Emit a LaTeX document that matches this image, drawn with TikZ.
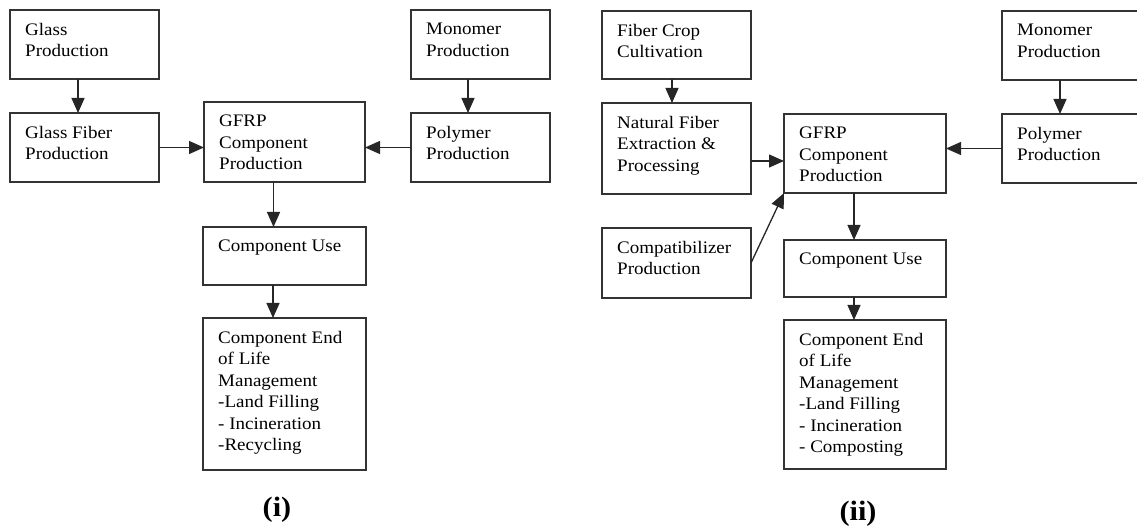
\documentclass[tikz,border=0pt]{standalone}
\usepackage{fontspec}
\setmainfont{Liberation Serif}[FakeStretch=1.08]
\usetikzlibrary{arrows.meta}

\newcommand\boxfont{\fontsize{17.6pt}{21.5pt}\selectfont}
\newcommand\tagfont{\fontsize{28pt}{32pt}\selectfont\bfseries}

\tikzset{
  blk/.style={draw=black!80, line width=1.4pt, rectangle, inner sep=0pt, outer sep=0pt},
  txt/.style={anchor=north west, inner sep=0pt, align=left, font=\boxfont},
  flow/.style={draw=black!85, line width=1.3pt, -{Triangle[length=15pt,width=13pt]}},
  tag/.style={font=\tagfont, inner sep=0pt},
}

% \blk{name}{x1}{y1}{x2}{y2}{text}: a frame with its text set at the top left
\newcommand\blk[6]{%
  \node[blk, minimum width={#4-#2}, minimum height={#5-#3}] (#1) at ({(#2+#4)/2},{(#3+#5)/2}) {};
  \node[txt] (#1-t) at ({#2+15},{#3+13}) {#6};
}

\begin{document}
\begin{tikzpicture}[x=1pt, y=-1pt]
\useasboundingbox (0,0) rectangle (1137,526);
\clip (0,0) rectangle (1137,526);

% ---- (i) glass fiber route
\blk{g1}{10}{10}{159}{79}{Glass\\Production}
\blk{g2}{10}{113}{159}{182}{Glass Fiber\\Production}
\blk{c1}{204}{102}{365}{182}{GFRP\\Component\\Production}
\blk{m1}{411}{10}{550}{79}{Monomer\\Production}
\blk{p1}{411}{113}{550}{182}{Polymer\\Production}
\blk{u1}{203}{227}{366}{285}{Component Use}
\blk{e1}{203}{318}{366}{470}{Component End\\of Life\\Management\\-Land Filling\\- Incineration\\-Recycling}

\draw[flow] ([xshift=-6.5pt]g1.south) -- ([xshift=-6.5pt]g1.south |- g2.north);
\draw[flow] ([xshift=-12.5pt]m1.south) -- ([xshift=-12.5pt]m1.south |- p1.north);
\draw[flow] (g2.east) -- (g2.east -| c1.west);
\draw[flow] (p1.west) -- (p1.west -| c1.east);
\draw[flow] ([xshift=-11pt]c1.south) -- ([xshift=-11pt]c1.south |- u1.north);
\draw[flow] ([xshift=-11.5pt]u1.south) -- ([xshift=-11.5pt]u1.south |- e1.north);

\node[tag] (ti) at (277,510) {(i)};

% ---- (ii) natural fiber route
\blk{f2}{602}{11}{751}{79}{Fiber Crop\\Cultivation}
\blk{n2}{602}{103}{751}{194}{Natural Fiber\\Extraction \&\\Processing}
\blk{k2}{602}{228}{751}{298}{Compatibilizer\\Production}
\blk{c2}{784}{114}{946}{193}{GFRP\\Component\\Production}
\blk{m2}{1002}{11}{1150}{80}{Monomer\\Production}
\blk{p2}{1002}{114}{1150}{183}{Polymer\\Production}
\blk{u2}{784}{240}{946}{297}{Component Use}
\blk{e2}{784}{320}{946}{469}{Component End\\of Life\\Management\\-Land Filling\\- Incineration\\- Composting}

\draw[flow] ([xshift=-4.5pt]f2.south) -- ([xshift=-4.5pt]f2.south |- n2.north);
\draw[flow] ([xshift=-16pt]m2.south) -- ([xshift=-16pt]m2.south |- p2.north);
\draw[flow] ([yshift=-12.5pt]n2.east) -- ([yshift=-12.5pt]n2.east -| c2.west);
\draw[flow] (k2.east) -- (c2.south west);
\draw[flow] (p2.west) -- (p2.west -| c2.east);
\draw[flow] ([xshift=-11pt]c2.south) -- ([xshift=-11pt]c2.south |- u2.north);
\draw[flow] ([xshift=-11pt]u2.south) -- ([xshift=-11pt]u2.south |- e2.north);

\node[tag] (tii) at (858,514) {(ii)};
\end{tikzpicture}
\end{document}
